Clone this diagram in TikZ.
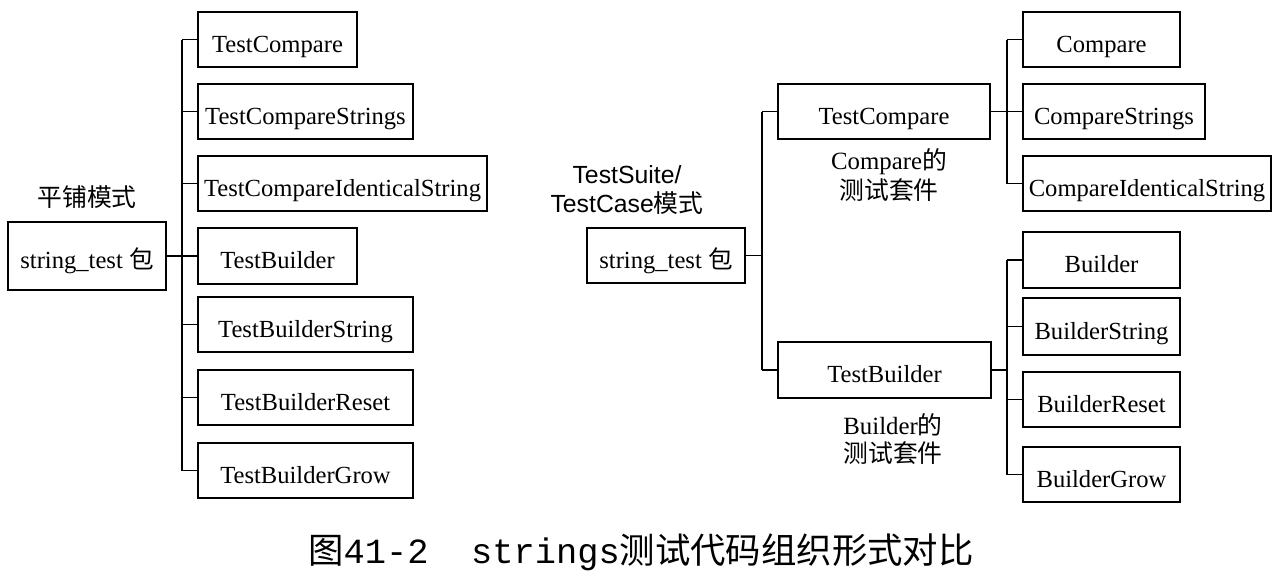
\documentclass[tikz,border=0pt]{standalone}
\usepackage{fontspec}
\setmainfont{Liberation Serif}
\setsansfont{Liberation Sans}
\setmonofont{Liberation Mono}
\newfontfamily\cjk{Noto Sans CJK SC}
\begin{document}
\begin{tikzpicture}[x=0.5pt,y=-0.5pt,
  bx/.style 2 args={draw, line width=0.75pt, inner sep=0pt, minimum width=#1*0.5pt, minimum height=#2*0.5pt,
    text height=12.5pt, text depth=0pt, font=\fontsize{12.3}{15}\selectfont},
  conn/.style={line width=0.75pt},
  lbl/.style={align=center, inner sep=0pt}]
\useasboundingbox (0,0) rectangle (1278,573);
% ---------- left tree ----------
\node[bx={158}{68}] (rootL) at (87,256) {string\_test {\cjk 包}};
\node[lbl, font=\cjk\fontsize{12.4}{15}\selectfont] (labL) at (87,197) {平铺模式};
\coordinate (bl) at (182,0);
\node[bx={159}{55}] (l1) at (277.5,39.5) {TestCompare};
\node[bx={215}{55}] (l2) at (305.5,111.5) {TestCompareStrings};
\node[bx={289}{55}] (l3) at (342.5,183.5) {TestCompareIdenticalString};
\node[bx={159}{56}] (l4) at (277.5,256) {TestBuilder};
\node[bx={215}{55}] (l5) at (305.5,324.5) {TestBuilderString};
\node[bx={215}{55}] (l6) at (305.5,397.5) {TestBuilderReset};
\node[bx={215}{55}] (l7) at (305.5,470.5) {TestBuilderGrow};
\draw[conn] (rootL.east) -- (rootL.east -| bl);
\draw[conn] (l1.west -| bl) -- (l7.west -| bl);
\foreach \n in {l1,l2,l3,l4,l5,l6,l7} \draw[conn] (\n.west) -- (\n.west -| bl);
% ---------- right tree ----------
\node[bx={158}{55}] (rootR) at (666,255.5) {string\_test {\cjk 包}};
\node[lbl, font=\sffamily\fontsize{12.4}{14.5}\selectfont] (labR) at (627,190) {TestSuite/\\TestCase{\cjk 模式}};
\coordinate (br) at (762,0);
\node[bx={212}{55}] (tc) at (884,111.5) {TestCompare};
\node[bx={213}{56}] (tb) at (884.5,370) {TestBuilder};
\draw[conn] (rootR.east) -- (rootR.east -| br);
\draw[conn] (tc.west -| br) -- (tb.west -| br);
\draw[conn] (tc.west) -- (tc.west -| br);
\draw[conn] (tb.west) -- (tb.west -| br);
\node[lbl, font=\fontsize{12.4}{15}\selectfont] (labC) at (889,175) {Compare{\cjk 的}\\{\cjk 测试套件}};
\node[lbl, font=\fontsize{12.4}{14}\selectfont] (labB) at (893,439) {Builder{\cjk 的}\\{\cjk 测试套件}};
\coordinate (bc) at (1007,0);
\node[bx={157}{55}] (r1) at (1101.5,39.5) {Compare};
\node[bx={182}{55}] (r2) at (1114,111.5) {CompareStrings};
\node[bx={248}{55}] (r3) at (1147,183.5) {CompareIdenticalString};
\node[bx={157}{56}] (r4) at (1101.5,260) {Builder};
\node[bx={157}{57}] (r5) at (1101.5,326.5) {BuilderString};
\node[bx={157}{55}] (r6) at (1101.5,399.5) {BuilderReset};
\node[bx={157}{55}] (r7) at (1101.5,474.5) {BuilderGrow};
\draw[conn] (tc.east) -- (tc.east -| bc);
\draw[conn] (r1.west -| bc) -- (r3.west -| bc);
\foreach \n in {r1,r2,r3} \draw[conn] (\n.west) -- (\n.west -| bc);
\draw[conn] (tb.east) -- (tb.east -| bc);
\draw[conn] (r4.west -| bc) -- (r7.west -| bc);
\foreach \n in {r4,r5,r6,r7} \draw[conn] (\n.west) -- (\n.west -| bc);
% ---------- caption ----------
\node[lbl, font=\fontsize{17.7}{20}\selectfont] (cap) at (641,552) {{\cjk 图}\texttt{41-2\ \ strings}{\cjk 测试代码组织形式对比}};
\end{tikzpicture}
\end{document}
